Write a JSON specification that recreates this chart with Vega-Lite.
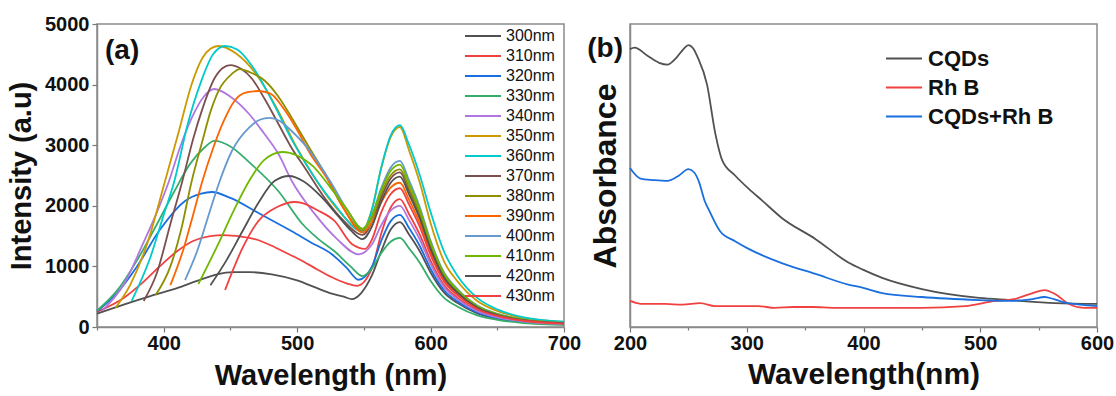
{
"$schema": "https://vega.github.io/schema/vega-lite/v6.json",
"padding": {"left": 6, "top": 13, "right": 0, "bottom": 0},
"bounds": "flush",
"spacing": 66,
"config": {
 "font": "Liberation Sans",
 "view": {"stroke": "#8a8a8a", "strokeWidth": 1.5},
 "axis": {"labelFont": "Liberation Sans", "labelFontSize": 20, "labelFontWeight": "bold", "labelColor": "#111", "titleFont": "Liberation Sans", "titleFontWeight": "bold", "titleColor": "#111", "domainColor": "#8a8a8a", "domainWidth": 1.5, "tickColor": "#777", "tickWidth": 1.2, "grid": false, "labelPadding": 3, "labelFlush": false, "labelOverlap": false},
 "legend": {"title": null, "symbolType": "stroke", "symbolSize": 1296, "symbolStrokeWidth": 2, "padding": 0, "rowPadding": 0, "labelFont": "Liberation Sans", "labelColor": "#111"},
 "line": {"strokeWidth": 1.8, "interpolate": "monotone"}
},
"resolve": {"scale": {"color": "independent"}},
"datasets": {
 "pl": [
{"s":"300nm","w":350,"v":220},{"s":"300nm","w":370,"v":370},{"s":"300nm","w":390,"v":510},{"s":"300nm","w":410,"v":640},{"s":"300nm","w":425,"v":760},{"s":"300nm","w":440,"v":870},{"s":"300nm","w":452,"v":905},{"s":"300nm","w":465,"v":905},{"s":"300nm","w":481,"v":870},{"s":"300nm","w":500,"v":770},{"s":"300nm","w":515,"v":640},{"s":"300nm","w":526,"v":550},{"s":"300nm","w":535,"v":500},{"s":"300nm","w":541,"v":460},{"s":"300nm","w":548,"v":560},{"s":"300nm","w":556,"v":850},{"s":"300nm","w":563,"v":1250},{"s":"300nm","w":570,"v":1603},{"s":"300nm","w":577,"v":1730},{"s":"300nm","w":584,"v":1522},{"s":"300nm","w":592,"v":1246},{"s":"300nm","w":600,"v":900},{"s":"300nm","w":610,"v":571},{"s":"300nm","w":620,"v":398},{"s":"300nm","w":635,"v":225},{"s":"300nm","w":650,"v":138},{"s":"300nm","w":670,"v":78},{"s":"300nm","w":700,"v":43},
{"s":"310nm","w":350,"v":250},{"s":"310nm","w":370,"v":480},{"s":"310nm","w":385,"v":750},{"s":"310nm","w":397,"v":1000},{"s":"310nm","w":410,"v":1250},{"s":"310nm","w":422,"v":1420},{"s":"310nm","w":435,"v":1500},{"s":"310nm","w":445,"v":1515},{"s":"310nm","w":458,"v":1490},{"s":"310nm","w":470,"v":1440},{"s":"310nm","w":481,"v":1340},{"s":"310nm","w":492,"v":1220},{"s":"310nm","w":504,"v":1090},{"s":"310nm","w":515,"v":950},{"s":"310nm","w":526,"v":820},{"s":"310nm","w":537,"v":720},{"s":"310nm","w":545,"v":680},{"s":"310nm","w":556,"v":966},{"s":"310nm","w":563,"v":1538},{"s":"310nm","w":570,"v":1967},{"s":"310nm","w":577,"v":2110},{"s":"310nm","w":584,"v":1857},{"s":"310nm","w":592,"v":1519},{"s":"310nm","w":600,"v":1097},{"s":"310nm","w":610,"v":696},{"s":"310nm","w":620,"v":485},{"s":"310nm","w":635,"v":274},{"s":"310nm","w":650,"v":169},{"s":"310nm","w":670,"v":95},{"s":"310nm","w":700,"v":53},
{"s":"320nm","w":350,"v":260},{"s":"320nm","w":365,"v":560},{"s":"320nm","w":380,"v":1000},{"s":"320nm","w":397,"v":1600},{"s":"320nm","w":416,"v":2080},{"s":"320nm","w":428,"v":2200},{"s":"320nm","w":436,"v":2228},{"s":"320nm","w":450,"v":2130},{"s":"320nm","w":471,"v":1880},{"s":"320nm","w":496,"v":1580},{"s":"320nm","w":510,"v":1400},{"s":"320nm","w":526,"v":1200},{"s":"320nm","w":537,"v":980},{"s":"320nm","w":546,"v":780},{"s":"320nm","w":556,"v":994},{"s":"320nm","w":563,"v":1422},{"s":"320nm","w":570,"v":1743},{"s":"320nm","w":577,"v":1850},{"s":"320nm","w":584,"v":1628},{"s":"320nm","w":592,"v":1332},{"s":"320nm","w":600,"v":962},{"s":"320nm","w":610,"v":611},{"s":"320nm","w":620,"v":426},{"s":"320nm","w":635,"v":241},{"s":"320nm","w":650,"v":148},{"s":"320nm","w":670,"v":83},{"s":"320nm","w":700,"v":46},
{"s":"330nm","w":350,"v":270},{"s":"330nm","w":365,"v":600},{"s":"330nm","w":380,"v":1100},{"s":"330nm","w":395,"v":1700},{"s":"330nm","w":408,"v":2240},{"s":"330nm","w":420,"v":2700},{"s":"330nm","w":430,"v":2950},{"s":"330nm","w":438,"v":3070},{"s":"330nm","w":450,"v":2980},{"s":"330nm","w":465,"v":2700},{"s":"330nm","w":486,"v":2240},{"s":"330nm","w":504,"v":1700},{"s":"330nm","w":516,"v":1450},{"s":"330nm","w":528,"v":1250},{"s":"330nm","w":540,"v":1000},{"s":"330nm","w":549,"v":840},{"s":"330nm","w":556,"v":966},{"s":"330nm","w":563,"v":1218},{"s":"330nm","w":570,"v":1407},{"s":"330nm","w":577,"v":1470},{"s":"330nm","w":584,"v":1294},{"s":"330nm","w":592,"v":1058},{"s":"330nm","w":600,"v":764},{"s":"330nm","w":610,"v":485},{"s":"330nm","w":620,"v":338},{"s":"330nm","w":635,"v":191},{"s":"330nm","w":650,"v":118},{"s":"330nm","w":670,"v":66},{"s":"330nm","w":700,"v":37},
{"s":"340nm","w":354,"v":270},{"s":"340nm","w":370,"v":700},{"s":"340nm","w":385,"v":1400},{"s":"340nm","w":395,"v":1900},{"s":"340nm","w":404,"v":2410},{"s":"340nm","w":412,"v":2950},{"s":"340nm","w":421,"v":3450},{"s":"340nm","w":430,"v":3800},{"s":"340nm","w":438,"v":3927},{"s":"340nm","w":450,"v":3800},{"s":"340nm","w":464,"v":3515},{"s":"340nm","w":475,"v":3200},{"s":"340nm","w":486,"v":2855},{"s":"340nm","w":496,"v":2410},{"s":"340nm","w":513,"v":1870},{"s":"340nm","w":530,"v":1450},{"s":"340nm","w":546,"v":1200},{"s":"340nm","w":556,"v":1360},{"s":"340nm","w":563,"v":1680},{"s":"340nm","w":570,"v":1920},{"s":"340nm","w":577,"v":2000},{"s":"340nm","w":584,"v":1760},{"s":"340nm","w":592,"v":1440},{"s":"340nm","w":600,"v":1040},{"s":"340nm","w":610,"v":660},{"s":"340nm","w":620,"v":460},{"s":"340nm","w":635,"v":260},{"s":"340nm","w":650,"v":160},{"s":"340nm","w":670,"v":90},{"s":"340nm","w":700,"v":50},
{"s":"350nm","w":364,"v":320},{"s":"350nm","w":375,"v":700},{"s":"350nm","w":388,"v":1400},{"s":"350nm","w":401,"v":2410},{"s":"350nm","w":411,"v":3200},{"s":"350nm","w":421,"v":4010},{"s":"350nm","w":429,"v":4440},{"s":"350nm","w":435,"v":4590},{"s":"350nm","w":441,"v":4637},{"s":"350nm","w":455,"v":4500},{"s":"350nm","w":470,"v":4150},{"s":"350nm","w":485,"v":3600},{"s":"350nm","w":500,"v":2950},{"s":"350nm","w":515,"v":2400},{"s":"350nm","w":530,"v":1950},{"s":"350nm","w":549,"v":1600},{"s":"350nm","w":556,"v":1940},{"s":"350nm","w":563,"v":2620},{"s":"350nm","w":570,"v":3130},{"s":"350nm","w":577,"v":3300},{"s":"350nm","w":584,"v":2904},{"s":"350nm","w":592,"v":2376},{"s":"350nm","w":600,"v":1716},{"s":"350nm","w":610,"v":1089},{"s":"350nm","w":620,"v":759},{"s":"350nm","w":635,"v":429},{"s":"350nm","w":650,"v":264},{"s":"350nm","w":670,"v":149},{"s":"350nm","w":700,"v":83},
{"s":"360nm","w":376,"v":430},{"s":"360nm","w":390,"v":1150},{"s":"360nm","w":400,"v":1850},{"s":"360nm","w":408,"v":2410},{"s":"360nm","w":418,"v":3350},{"s":"360nm","w":428,"v":4050},{"s":"360nm","w":437,"v":4500},{"s":"360nm","w":446,"v":4637},{"s":"360nm","w":455,"v":4580},{"s":"360nm","w":468,"v":4250},{"s":"360nm","w":482,"v":3700},{"s":"360nm","w":497,"v":3050},{"s":"360nm","w":512,"v":2500},{"s":"360nm","w":527,"v":2050},{"s":"360nm","w":549,"v":1580},{"s":"360nm","w":556,"v":1930},{"s":"360nm","w":563,"v":2630},{"s":"360nm","w":570,"v":3155},{"s":"360nm","w":577,"v":3330},{"s":"360nm","w":584,"v":3000},{"s":"360nm","w":592,"v":2500},{"s":"360nm","w":600,"v":1900},{"s":"360nm","w":610,"v":1250},{"s":"360nm","w":620,"v":850},{"s":"360nm","w":635,"v":480},{"s":"360nm","w":650,"v":290},{"s":"360nm","w":670,"v":160},{"s":"360nm","w":700,"v":90},
{"s":"370nm","w":385,"v":430},{"s":"370nm","w":395,"v":900},{"s":"370nm","w":405,"v":1700},{"s":"370nm","w":414,"v":2410},{"s":"370nm","w":422,"v":3100},{"s":"370nm","w":429,"v":3600},{"s":"370nm","w":438,"v":4100},{"s":"370nm","w":444,"v":4270},{"s":"370nm","w":450,"v":4323},{"s":"370nm","w":458,"v":4260},{"s":"370nm","w":466,"v":4100},{"s":"370nm","w":476,"v":3750},{"s":"370nm","w":486,"v":3350},{"s":"370nm","w":496,"v":2950},{"s":"370nm","w":506,"v":2620},{"s":"370nm","w":520,"v":2150},{"s":"370nm","w":535,"v":1750},{"s":"370nm","w":549,"v":1520},{"s":"370nm","w":556,"v":1726},{"s":"370nm","w":563,"v":2138},{"s":"370nm","w":570,"v":2447},{"s":"370nm","w":577,"v":2550},{"s":"370nm","w":584,"v":2244},{"s":"370nm","w":592,"v":1836},{"s":"370nm","w":600,"v":1326},{"s":"370nm","w":610,"v":842},{"s":"370nm","w":620,"v":587},{"s":"370nm","w":635,"v":332},{"s":"370nm","w":650,"v":204},{"s":"370nm","w":670,"v":115},{"s":"370nm","w":700,"v":64},
{"s":"380nm","w":394,"v":530},{"s":"380nm","w":405,"v":1000},{"s":"380nm","w":413,"v":1600},{"s":"380nm","w":421,"v":2410},{"s":"380nm","w":429,"v":3070},{"s":"380nm","w":435,"v":3550},{"s":"380nm","w":441,"v":3894},{"s":"380nm","w":451,"v":4175},{"s":"380nm","w":457,"v":4257},{"s":"380nm","w":465,"v":4200},{"s":"380nm","w":476,"v":4060},{"s":"380nm","w":486,"v":3800},{"s":"380nm","w":496,"v":3450},{"s":"380nm","w":508,"v":3000},{"s":"380nm","w":521,"v":2525},{"s":"380nm","w":535,"v":1950},{"s":"380nm","w":549,"v":1600},{"s":"380nm","w":556,"v":1800},{"s":"380nm","w":563,"v":2200},{"s":"380nm","w":570,"v":2500},{"s":"380nm","w":577,"v":2600},{"s":"380nm","w":584,"v":2288},{"s":"380nm","w":592,"v":1872},{"s":"380nm","w":600,"v":1352},{"s":"380nm","w":610,"v":858},{"s":"380nm","w":620,"v":598},{"s":"380nm","w":635,"v":338},{"s":"380nm","w":650,"v":208},{"s":"380nm","w":670,"v":117},{"s":"380nm","w":700,"v":65},
{"s":"390nm","w":405,"v":690},{"s":"390nm","w":415,"v":1300},{"s":"390nm","w":422,"v":1850},{"s":"390nm","w":429,"v":2410},{"s":"390nm","w":437,"v":2950},{"s":"390nm","w":445,"v":3400},{"s":"390nm","w":453,"v":3730},{"s":"390nm","w":462,"v":3870},{"s":"390nm","w":471,"v":3894},{"s":"390nm","w":480,"v":3850},{"s":"390nm","w":490,"v":3600},{"s":"390nm","w":500,"v":3250},{"s":"390nm","w":510,"v":2850},{"s":"390nm","w":521,"v":2500},{"s":"390nm","w":535,"v":1950},{"s":"390nm","w":549,"v":1560},{"s":"390nm","w":556,"v":1724},{"s":"390nm","w":563,"v":2052},{"s":"390nm","w":570,"v":2298},{"s":"390nm","w":577,"v":2380},{"s":"390nm","w":584,"v":2094},{"s":"390nm","w":592,"v":1714},{"s":"390nm","w":600,"v":1238},{"s":"390nm","w":610,"v":785},{"s":"390nm","w":620,"v":547},{"s":"390nm","w":635,"v":309},{"s":"390nm","w":650,"v":190},{"s":"390nm","w":670,"v":107},{"s":"390nm","w":700,"v":60},
{"s":"400nm","w":416,"v":775},{"s":"400nm","w":425,"v":1250},{"s":"400nm","w":433,"v":1800},{"s":"400nm","w":442,"v":2410},{"s":"400nm","w":451,"v":2900},{"s":"400nm","w":464,"v":3290},{"s":"400nm","w":472,"v":3420},{"s":"400nm","w":479,"v":3450},{"s":"400nm","w":487,"v":3400},{"s":"400nm","w":496,"v":3230},{"s":"400nm","w":506,"v":3000},{"s":"400nm","w":516,"v":2700},{"s":"400nm","w":526,"v":2360},{"s":"400nm","w":537,"v":1950},{"s":"400nm","w":549,"v":1620},{"s":"400nm","w":556,"v":1844},{"s":"400nm","w":563,"v":2292},{"s":"400nm","w":570,"v":2628},{"s":"400nm","w":577,"v":2740},{"s":"400nm","w":584,"v":2411},{"s":"400nm","w":592,"v":1973},{"s":"400nm","w":600,"v":1425},{"s":"400nm","w":610,"v":904},{"s":"400nm","w":620,"v":630},{"s":"400nm","w":635,"v":356},{"s":"400nm","w":650,"v":219},{"s":"400nm","w":670,"v":123},{"s":"400nm","w":700,"v":69},
{"s":"410nm","w":426,"v":710},{"s":"410nm","w":440,"v":1330},{"s":"410nm","w":452,"v":1900},{"s":"410nm","w":464,"v":2410},{"s":"410nm","w":475,"v":2750},{"s":"410nm","w":489,"v":2888},{"s":"410nm","w":500,"v":2830},{"s":"410nm","w":512,"v":2650},{"s":"410nm","w":525,"v":2300},{"s":"410nm","w":537,"v":1950},{"s":"410nm","w":549,"v":1620},{"s":"410nm","w":556,"v":1832},{"s":"410nm","w":563,"v":2256},{"s":"410nm","w":570,"v":2574},{"s":"410nm","w":577,"v":2680},{"s":"410nm","w":584,"v":2358},{"s":"410nm","w":592,"v":1930},{"s":"410nm","w":600,"v":1394},{"s":"410nm","w":610,"v":884},{"s":"410nm","w":620,"v":616},{"s":"410nm","w":635,"v":348},{"s":"410nm","w":650,"v":214},{"s":"410nm","w":670,"v":121},{"s":"410nm","w":700,"v":67},
{"s":"420nm","w":435,"v":690},{"s":"420nm","w":447,"v":1100},{"s":"420nm","w":459,"v":1580},{"s":"420nm","w":471,"v":2050},{"s":"420nm","w":483,"v":2410},{"s":"420nm","w":494,"v":2492},{"s":"420nm","w":505,"v":2400},{"s":"420nm","w":518,"v":2150},{"s":"420nm","w":530,"v":1850},{"s":"420nm","w":540,"v":1600},{"s":"420nm","w":549,"v":1450},{"s":"420nm","w":556,"v":1656},{"s":"420nm","w":563,"v":2068},{"s":"420nm","w":570,"v":2377},{"s":"420nm","w":577,"v":2480},{"s":"420nm","w":584,"v":2182},{"s":"420nm","w":592,"v":1786},{"s":"420nm","w":600,"v":1290},{"s":"420nm","w":610,"v":818},{"s":"420nm","w":620,"v":570},{"s":"420nm","w":635,"v":322},{"s":"420nm","w":650,"v":198},{"s":"420nm","w":670,"v":112},{"s":"420nm","w":700,"v":62},
{"s":"430nm","w":446,"v":610},{"s":"430nm","w":459,"v":1300},{"s":"430nm","w":471,"v":1750},{"s":"430nm","w":485,"v":1980},{"s":"430nm","w":498,"v":2063},{"s":"430nm","w":504,"v":2046},{"s":"430nm","w":515,"v":1930},{"s":"430nm","w":528,"v":1750},{"s":"430nm","w":541,"v":1370},{"s":"430nm","w":551,"v":1290},{"s":"430nm","w":556,"v":1440},{"s":"430nm","w":563,"v":1890},{"s":"430nm","w":570,"v":2190},{"s":"430nm","w":577,"v":2290},{"s":"430nm","w":584,"v":2015},{"s":"430nm","w":592,"v":1649},{"s":"430nm","w":600,"v":1191},{"s":"430nm","w":610,"v":756},{"s":"430nm","w":620,"v":527},{"s":"430nm","w":635,"v":298},{"s":"430nm","w":650,"v":183},{"s":"430nm","w":670,"v":103},{"s":"430nm","w":700,"v":57}
 ],
 "ab": [
{"s":"CQDs","w":200,"v":0.917},{"s":"CQDs","w":204,"v":0.922},{"s":"CQDs","w":215,"v":0.895},{"s":"CQDs","w":225,"v":0.872},{"s":"CQDs","w":232,"v":0.866},{"s":"CQDs","w":240,"v":0.89},{"s":"CQDs","w":246,"v":0.918},{"s":"CQDs","w":250,"v":0.93},{"s":"CQDs","w":254,"v":0.92},{"s":"CQDs","w":258,"v":0.89},{"s":"CQDs","w":266,"v":0.80},{"s":"CQDs","w":273,"v":0.64},{"s":"CQDs","w":279,"v":0.55},{"s":"CQDs","w":290,"v":0.50},{"s":"CQDs","w":302,"v":0.455},{"s":"CQDs","w":313,"v":0.418},{"s":"CQDs","w":330,"v":0.36},{"s":"CQDs","w":359,"v":0.29},{"s":"CQDs","w":387,"v":0.213},{"s":"CQDs","w":399,"v":0.19},{"s":"CQDs","w":416,"v":0.162},{"s":"CQDs","w":450,"v":0.125},{"s":"CQDs","w":499,"v":0.096},{"s":"CQDs","w":525,"v":0.089},{"s":"CQDs","w":564,"v":0.079},{"s":"CQDs","w":600,"v":0.076},
{"s":"Rh B","w":200,"v":0.086},{"s":"Rh B","w":205,"v":0.08},{"s":"Rh B","w":213,"v":0.076},{"s":"Rh B","w":230,"v":0.076},{"s":"Rh B","w":245,"v":0.074},{"s":"Rh B","w":260,"v":0.079},{"s":"Rh B","w":273,"v":0.069},{"s":"Rh B","w":310,"v":0.069},{"s":"Rh B","w":324,"v":0.063},{"s":"Rh B","w":340,"v":0.066},{"s":"Rh B","w":356,"v":0.066},{"s":"Rh B","w":376,"v":0.063},{"s":"Rh B","w":450,"v":0.063},{"s":"Rh B","w":487,"v":0.069},{"s":"Rh B","w":513,"v":0.086},{"s":"Rh B","w":529,"v":0.092},{"s":"Rh B","w":545,"v":0.112},{"s":"Rh B","w":555,"v":0.122},{"s":"Rh B","w":564,"v":0.109},{"s":"Rh B","w":576,"v":0.076},{"s":"Rh B","w":590,"v":0.063},{"s":"Rh B","w":600,"v":0.063},
{"s":"CQDs+Rh B","w":200,"v":0.525},{"s":"CQDs+Rh B","w":209,"v":0.49},{"s":"CQDs+Rh B","w":220,"v":0.485},{"s":"CQDs+Rh B","w":232,"v":0.482},{"s":"CQDs+Rh B","w":242,"v":0.5},{"s":"CQDs+Rh B","w":250,"v":0.521},{"s":"CQDs+Rh B","w":255,"v":0.51},{"s":"CQDs+Rh B","w":259,"v":0.48},{"s":"CQDs+Rh B","w":264,"v":0.416},{"s":"CQDs+Rh B","w":268,"v":0.383},{"s":"CQDs+Rh B","w":277,"v":0.317},{"s":"CQDs+Rh B","w":290,"v":0.283},{"s":"CQDs+Rh B","w":302,"v":0.257},{"s":"CQDs+Rh B","w":330,"v":0.211},{"s":"CQDs+Rh B","w":359,"v":0.175},{"s":"CQDs+Rh B","w":387,"v":0.14},{"s":"CQDs+Rh B","w":399,"v":0.13},{"s":"CQDs+Rh B","w":416,"v":0.112},{"s":"CQDs+Rh B","w":450,"v":0.099},{"s":"CQDs+Rh B","w":499,"v":0.089},{"s":"CQDs+Rh B","w":525,"v":0.086},{"s":"CQDs+Rh B","w":545,"v":0.092},{"s":"CQDs+Rh B","w":555,"v":0.099},{"s":"CQDs+Rh B","w":563,"v":0.092},{"s":"CQDs+Rh B","w":570,"v":0.083},{"s":"CQDs+Rh B","w":585,"v":0.074},{"s":"CQDs+Rh B","w":600,"v":0.069}
 ]
},
"hconcat": [
 {
  "width": 467, "height": 303,
  "layer": [
   {
    "data": {"name": "pl"},
    "mark": {"type": "line"},
    "encoding": {
     "x": {"field": "w", "type": "quantitative", "scale": {"domain": [350, 700], "nice": false, "zero": false},
       "axis": {"title": "Wavelength (nm)", "titleFontSize": 29, "titlePadding": 8, "labelPadding": 1, "values": [350,400,450,500,550,600,650,700], "format": "d", "labelExpr": "datum.value % 100 === 0 ? datum.label : ''", "tickSize": {"condition": {"test": "datum.value % 100 !== 0", "value": 3}, "value": 5}}},
     "y": {"field": "v", "type": "quantitative", "scale": {"domain": [0, 5000], "nice": false},
       "axis": {"title": "Intensity (a.u)", "titleFontSize": 29, "titlePadding": 8, "values": [0,500,1000,1500,2000,2500,3000,3500,4000,4500,5000], "format": "d", "labelExpr": "datum.value % 1000 === 0 ? datum.label : ''", "tickSize": {"condition": {"test": "datum.value % 1000 !== 0", "value": 3}, "value": 5}}},
     "color": {"field": "s", "type": "nominal",
       "scale": {"domain": ["300nm","310nm","320nm","330nm","340nm","350nm","360nm","370nm","380nm","390nm","400nm","410nm","420nm","430nm"],
                 "range": ["#515151","#F14040","#1A6FDF","#37AD6B","#B177DE","#CC9900","#00CBCC","#7D4E4E","#8E8E00","#FB6501","#6699CC","#6FB802","#515151","#F14040"]},
       "legend": {"orient": "none", "legendX": 367, "legendY": 2, "clipHeight": 20, "labelFontSize": 16, "labelFontWeight": "normal", "labelOffset": 4}}
    }
   },
   {
    "data": {"values": [{"t": "(a)", "w": 356, "v": 4550}]},
    "mark": {"type": "text", "align": "left", "baseline": "middle", "fontSize": 28, "fontWeight": "bold", "font": "Liberation Sans", "color": "#111"},
    "encoding": {"x": {"field": "w", "type": "quantitative"}, "y": {"field": "v", "type": "quantitative"}, "text": {"field": "t"}}
   }
  ]
 },
 {
  "width": 467, "height": 303,
  "layer": [
   {
    "data": {"name": "ab"},
    "mark": {"type": "line"},
    "encoding": {
     "x": {"field": "w", "type": "quantitative", "scale": {"domain": [200, 600], "nice": false, "zero": false},
       "axis": {"title": "Wavelength(nm)", "titleFontSize": 30, "titlePadding": 6, "labelPadding": 1, "values": [200,250,300,350,400,450,500,550,600], "format": "d", "labelExpr": "datum.value % 100 === 0 ? datum.label : ''", "tickSize": {"condition": {"test": "datum.value % 100 !== 0", "value": 3}, "value": 5}}},
     "y": {"field": "v", "type": "quantitative", "scale": {"domain": [0, 1], "nice": false},
       "axis": {"title": "Absorbance", "titleFontSize": 32, "titlePadding": 8, "labels": false, "ticks": false}},
     "color": {"field": "s", "type": "nominal",
       "scale": {"domain": ["CQDs","Rh B","CQDs+Rh B"], "range": ["#515151","#F14040","#1A6FDF"]},
       "legend": {"orient": "none", "legendX": 255, "legendY": 20, "clipHeight": 29, "labelFontSize": 22, "labelFontWeight": "bold", "labelOffset": 5}}
    }
   },
   {
    "data": {"values": [{"t": "(b)", "w": 194, "v": 0.917}]},
    "mark": {"type": "text", "align": "right", "baseline": "middle", "fontSize": 28, "fontWeight": "bold", "font": "Liberation Sans", "color": "#111"},
    "encoding": {"x": {"field": "w", "type": "quantitative"}, "y": {"field": "v", "type": "quantitative"}, "text": {"field": "t"}}
   }
  ]
 }
]
}
